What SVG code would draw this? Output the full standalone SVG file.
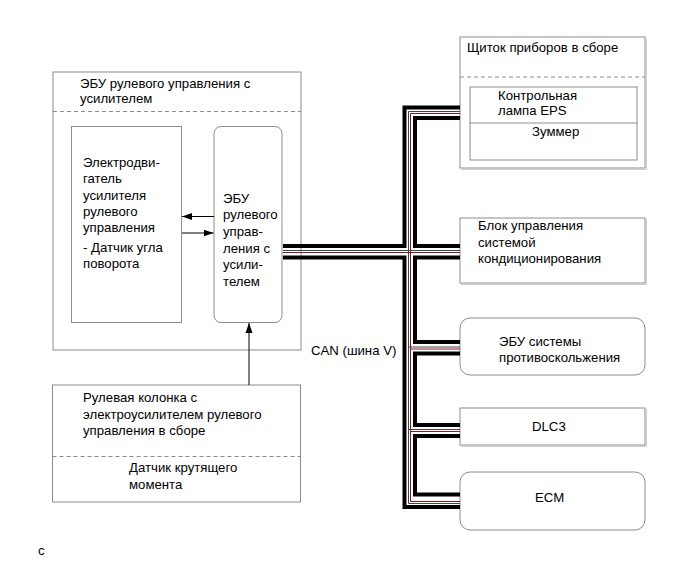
<svg xmlns="http://www.w3.org/2000/svg" width="694" height="562" viewBox="0 0 694 562">
<style>
text{font-family:"Liberation Sans",Arial,sans-serif;font-size:13.2px;fill:#000}
.box{fill:#fff;stroke:#8c8c8c;stroke-width:1}
.shadow{fill:none;stroke:#d0d0d0;stroke-width:1}
.dash{stroke:#8c8c8c;stroke-width:1;stroke-dasharray:4 3;fill:none}
.thick{fill:none;stroke:#000;stroke-width:4}
.thin1{fill:none;stroke:#444;stroke-width:1}
.thin2{fill:none;stroke:#7a1f1f;stroke-width:1}
.arr{stroke:#000;stroke-width:1;fill:none;marker-end:url(#ah)}
</style>
<defs>
<marker id="ah" viewBox="0 0 10 10" refX="10" refY="5" markerWidth="10" markerHeight="10" markerUnits="userSpaceOnUse" orient="auto">
<path d="M0,1.5 L10,5 L0,8.5 Z" fill="#000"/>
</marker>
</defs>
<rect width="694" height="562" fill="#fff"/>

<g id="eps-ecu-assy">
<rect class="box" x="53" y="72" width="248" height="278"/>
<line class="dash" x1="53" y1="111.5" x2="301" y2="111.5"/>
<text x="80" y="88">ЭБУ рулевого управления с</text>
<text x="80" y="103">усилителем</text>
</g>

<g id="motor">
<rect class="box" x="71.5" y="126.5" width="110" height="196"/>
<text x="83" y="167">Электродви-</text>
<text x="83" y="183">гатель</text>
<text x="83" y="199.5">усилителя</text>
<text x="83" y="215.5">рулевого</text>
<text x="83" y="231.5">управления</text>
<text x="83" y="251.5">- Датчик угла</text>
<text x="83" y="267.5">поворота</text>
</g>

<g id="eps-ecu">
<rect class="box" x="214" y="126.5" width="68" height="196" rx="7"/>
<text x="223" y="202.5">ЭБУ</text>
<text x="223" y="219">рулевого</text>
<text x="223" y="236">управ-</text>
<text x="223" y="252.5">ления с</text>
<text x="223" y="269">усили-</text>
<text x="223" y="286">телем</text>
</g>

<g id="steering-column">
<rect class="box" x="52.5" y="385" width="248" height="117"/>
<line class="dash" x1="52.5" y1="456.5" x2="300.5" y2="456.5"/>
<text x="83" y="402">Рулевая колонка с</text>
<text x="83" y="418.5">электроусилителем рулевого</text>
<text x="83" y="435">управления в сборе</text>
<text x="129" y="472">Датчик крутящего</text>
<text x="129" y="488.5">момента</text>
</g>

<g id="meter">
<path class="shadow" d="M646.5,38 V169.5 H461"/>
<rect class="box" x="460" y="37" width="185" height="131"/>
<line class="dash" x1="460" y1="77" x2="645" y2="77"/>
<rect class="box" x="470" y="87" width="167" height="73"/>
<line x1="470" y1="123" x2="637" y2="123" stroke="#8c8c8c" stroke-width="1"/>
<text x="467" y="52">Щиток приборов в сборе</text>
<text x="498" y="100">Контрольная</text>
<text x="498" y="115">лампа EPS</text>
<text x="532" y="135.5">Зуммер</text>
</g>

<g id="ac">
<path class="shadow" d="M646.5,219 V284.5 H461"/>
<rect class="box" x="460" y="218" width="185" height="65"/>
<text x="478" y="230">Блок управления</text>
<text x="478" y="246.5">системой</text>
<text x="478" y="263">кондиционирования</text>
</g>

<g id="skid">
<rect class="box" x="460" y="318" width="185" height="57" rx="10"/>
<text x="499" y="345.5">ЭБУ системы</text>
<text x="499" y="362">противоскольжения</text>
</g>

<g id="dlc3">
<path class="shadow" d="M646.5,409 V446.5 H461"/>
<rect class="box" x="460" y="408" width="185" height="37"/>
<text x="532" y="431">DLC3</text>
</g>

<g id="ecm">
<rect class="box" x="460" y="472" width="185" height="58" rx="10"/>
<text x="535" y="502">ECM</text>
</g>

<g id="connectors">
<line class="arr" x1="214" y1="216.5" x2="182" y2="216.5"/>
<line class="arr" x1="182" y1="233" x2="213.5" y2="233"/>
<line class="arr" x1="249" y1="385" x2="249" y2="323"/>
<path class="thick" d="M460,107.5 H404.5 V246 H283"/>
<path class="thick" d="M283,257.5 H404.5 V507 H460"/>
<path class="thick" d="M460,118 H415 V246 H460"/>
<path class="thick" d="M460,257.5 H415 V342 H460"/>
<path class="thick" d="M460,353.5 H415 V425 H460"/>
<path class="thick" d="M460,436 H415 V494.5 H460"/>
<path class="thin1" d="M460,111.5 H408.5 V503.5 H460"/>
<path class="thin2" d="M460,113.5 H410.5 V501.5 H460"/>
<line class="thin1" x1="283" y1="250.5" x2="460" y2="250.5"/>
<line class="thin2" x1="283" y1="252.5" x2="460" y2="252.5"/>
<line class="thin1" x1="408.5" y1="347" x2="460" y2="347"/>
<line class="thin2" x1="410.5" y1="349" x2="460" y2="349"/>
<line class="thin1" x1="408.5" y1="429.5" x2="460" y2="429.5"/>
<line class="thin2" x1="410.5" y1="431.5" x2="460" y2="431.5"/>
</g>

<text x="311" y="355">CAN (шина V)</text>
<text x="38" y="555">c</text>
</svg>
